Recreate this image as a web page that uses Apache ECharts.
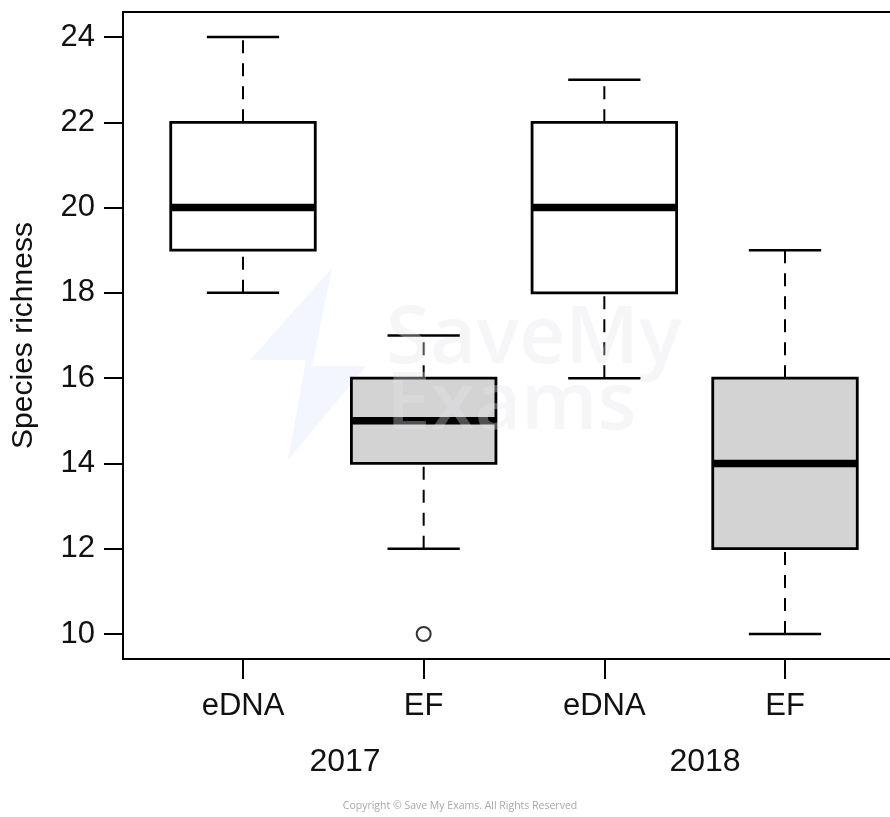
<!DOCTYPE html>
<html>
<head>
<meta charset="utf-8">
<style>
html,body{margin:0;padding:0;background:#fff;}
#chart{width:890px;height:817px;}
</style>
<script src="https://cdn.jsdelivr.net/npm/echarts@6/dist/echarts.min.js"></script>
</head>
<body>
<div id="chart"></div>
<script>
// ---- data ----
var categories = ['eDNA', 'EF', 'eDNA', 'EF'];
var positions = [1, 2, 3, 4];
var years = ['2017', '2018'];
var lows = [18, 12, 16, 10];
var q1s = [19, 14, 18, 12];
var medians = [20, 15, 20, 14];
var q3s = [22, 16, 22, 16];
var highs = [24, 17, 23, 19];
var fillGroup = [0, 1, 0, 1];
var outliers = [[2, 10]];
var yTicks = [10, 12, 14, 16, 18, 20, 22, 24];
var yTitle = 'Species richness';

var fills = ['#ffffff', '#d3d3d3'];
var boxData = positions.map(function (p, i) {
  return [p, lows[i], q1s[i], medians[i], q3s[i], highs[i], fillGroup[i]];
});

var chart = echarts.init(document.getElementById('chart'), null, {renderer: 'canvas'});
var FONT = 'Liberation Sans';

function renderBox(params, api) {
  var x = api.value(0);
  var pLo = api.coord([x, api.value(1)]);
  var pQ1 = api.coord([x, api.value(2)]);
  var pMed = api.coord([x, api.value(3)]);
  var pQ3 = api.coord([x, api.value(4)]);
  var pHi = api.coord([x, api.value(5)]);
  var fill = fills[api.value(6)];
  var hw = api.size([0.8, 0])[0] / 2;
  var cw = hw / 2;
  var cx = pLo[0];
  var dashStyle = {stroke: '#000', lineWidth: 2, lineDash: [13, 10]};
  var solid = {stroke: '#000', lineWidth: 2.5};
  return {
    type: 'group',
    children: [
      {type: 'line', shape: {x1: cx, y1: pLo[1], x2: cx, y2: pQ1[1]}, style: dashStyle},
      {type: 'line', shape: {x1: cx, y1: pQ3[1], x2: cx, y2: pHi[1]}, style: dashStyle},
      {type: 'line', shape: {x1: cx - cw, y1: pLo[1], x2: cx + cw, y2: pLo[1]}, style: solid},
      {type: 'line', shape: {x1: cx - cw, y1: pHi[1], x2: cx + cw, y2: pHi[1]}, style: solid},
      {type: 'rect', shape: {x: cx - hw, y: pQ3[1], width: 2 * hw, height: pQ1[1] - pQ3[1]},
        style: {fill: fill, stroke: '#000', lineWidth: 2.8}},
      {type: 'line', shape: {x1: cx - hw, y1: pMed[1], x2: cx + hw, y2: pMed[1]},
        style: {stroke: '#000', lineWidth: 7.5}}
    ]
  };
}

var option = {
  backgroundColor: '#fff',
  animation: false,
  grid: {left: 123, top: 12, right: -10, bottom: 158, outerBoundsMode: 'none', containLabel: false},
  xAxis: [{
    type: 'value',
    min: 0.3358,
    max: 4.6365,
    splitLine: {show: false},
    axisLine: {show: true, onZero: false, lineStyle: {color: '#000', width: 2}},
    axisTick: {show: true, customValues: positions, length: 20, lineStyle: {color: '#000', width: 2}},
    axisLabel: {
      customValues: positions,
      margin: 32,
      color: '#111',
      fontFamily: FONT,
      fontSize: 31,
      formatter: function (v) {
        var i = positions.indexOf(Math.round(v));
        return i >= 0 ? categories[i] : '';
      }
    }
  }, {
    type: 'value',
    position: 'top',
    min: 0.3358,
    max: 4.6365,
    splitLine: {show: false},
    axisLine: {show: true, onZero: false, lineStyle: {color: '#000', width: 2}},
    axisTick: {show: false},
    axisLabel: {show: false}
  }],
  yAxis: {
    type: 'value',
    min: 9.414,
    max: 24.586,
    name: yTitle,
    nameLocation: 'middle',
    nameGap: 84,
    nameRotate: 90,
    nameTextStyle: {color: '#111', fontFamily: FONT, fontSize: 30},
    splitLine: {show: false},
    axisLine: {show: true, onZero: false, lineStyle: {color: '#000', width: 2}},
    axisTick: {show: true, customValues: yTicks, length: 19, lineStyle: {color: '#000', width: 2}},
    axisLabel: {customValues: yTicks, margin: 28, color: '#111', fontFamily: FONT, fontSize: 31}
  },
  graphic: [
    {type: 'polygon', z: 1, silent: true,
      shape: {points: [[332, 268], [250, 360], [306, 360], [288, 460], [366, 366], [312, 366]]},
      style: {fill: 'rgba(228,234,252,0.45)'}},
    {type: 'text', x: 386, y: 340, z: 20, silent: true,
      style: {text: 'SaveMy', fontFamily: 'Open Sans', fontWeight: 600, fontSize: 80,
        fill: 'rgba(228,228,234,0.35)', verticalAlign: 'middle'}},
    {type: 'text', x: 386, y: 406, z: 20, silent: true,
      style: {text: 'Exams', fontFamily: 'Open Sans', fontWeight: 600, fontSize: 80,
        fill: 'rgba(228,228,234,0.35)', verticalAlign: 'middle'}},
    {type: 'text', x: 345, y: 762, z: 10,
      style: {text: years[0], fontFamily: FONT, fontSize: 32, fill: '#111', align: 'center', verticalAlign: 'middle'}},
    {type: 'text', x: 705, y: 762, z: 10,
      style: {text: years[1], fontFamily: FONT, fontSize: 32, fill: '#111', align: 'center', verticalAlign: 'middle'}},
    {type: 'text', x: 460, y: 806, z: 10,
      style: {text: 'Copyright \u00a9 Save My Exams. All Rights Reserved', fontFamily: 'Open Sans', fontSize: 10.5,
        fill: '#a8a8a8', align: 'center', verticalAlign: 'middle'}}
  ],
  series: [{
    type: 'custom',
    renderItem: renderBox,
    data: boxData,
    encode: {x: 0, y: [1, 2, 3, 4, 5]},
    clip: false,
    z: 3
  }, {
    type: 'scatter',
    data: outliers,
    symbol: 'circle',
    symbolSize: 14,
    itemStyle: {color: '#fff', borderColor: '#000', borderWidth: 2},
    z: 4
  }]
};
chart.setOption(option);
</script>
</body>
</html>
